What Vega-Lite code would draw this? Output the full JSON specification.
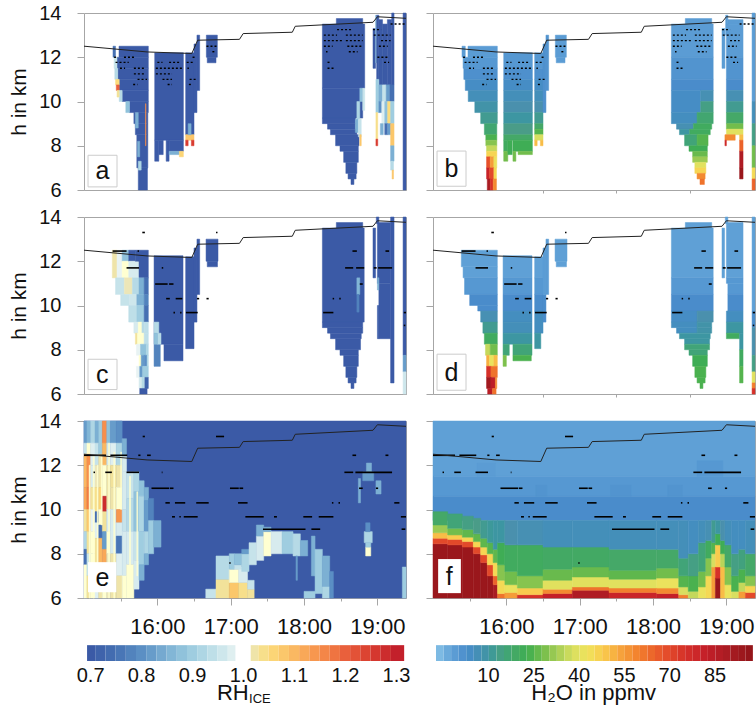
{"$schema":"https://vega.github.io/schema/vega-lite/v6.json","padding":{"left":8,"top":2,"right":0,"bottom":0},"background":"white","config":{"view":{"stroke":"#a6a6a6","strokeWidth":1},"font":"Liberation Sans","axis":{"labelFont":"Liberation Sans","titleFont":"Liberation Sans","grid":false,"labelColor":"#111","titleColor":"#111","titleFontWeight":"normal","domainColor":"#a6a6a6","tickColor":"#a6a6a6"}},
"datasets":{
"trop":[{"t":15,"h":12.5},{"t":15.86,"h":12.24},{"t":16.47,"h":12.17},{"t":16.55,"h":12.77},{"t":17.12,"h":12.81},{"t":17.17,"h":13.07},{"t":17.84,"h":13.13},{"t":17.88,"h":13.4},{"t":18.94,"h":13.58},{"t":19,"h":13.83},{"t":19.39,"h":13.76}],
"da":[{"t":15.41,"u":15.45,"h":12},{"t":15.545,"u":15.695,"h":12},{"t":15.43,"u":15.61,"h":11.77},{"t":15.49,"u":15.56,"h":11.5},{"t":15.68,"u":15.84,"h":11.5},{"t":15.68,"u":15.82,"h":11.25},{"t":15.73,"u":15.86,"h":11},{"t":15.67,"u":15.73,"h":10.77},{"t":16,"u":16.07,"h":11.77},{"t":16.16,"u":16.32,"h":11.77},{"t":15.98,"u":16.34,"h":11.5},{"t":15.98,"u":16.2,"h":11.25},{"t":16.07,"u":16.2,"h":11},{"t":16.14,"u":16.2,"h":10.77},{"t":16.48,"u":16.53,"h":12},{"t":16.4,"u":16.5,"h":11.77},{"t":16.41,"u":16.43,"h":11.5},{"t":16.44,"u":16.53,"h":11},{"t":16.43,"u":16.48,"h":10.77},{"t":16.67,"u":16.82,"h":12.5},{"t":16.75,"u":16.8,"h":12.25},{"t":18.45,"u":18.66,"h":13.25},{"t":18.27,"u":18.45,"h":13},{"t":18.57,"u":18.8,"h":13},{"t":18.27,"u":18.52,"h":12.75},{"t":18.57,"u":18.8,"h":12.75},{"t":18.27,"u":18.39,"h":12.5},{"t":18.59,"u":18.8,"h":12.5},{"t":18.61,"u":18.73,"h":12.25},{"t":18.3,"u":18.32,"h":12.25},{"t":18.32,"u":18.36,"h":11.77},{"t":18.32,"u":18.41,"h":11.5},{"t":19.18,"u":19.39,"h":13.5},{"t":18.94,"u":19.05,"h":13.25},{"t":18.95,"u":19.18,"h":13},{"t":19.05,"u":19.18,"h":12.75},{"t":19.02,"u":19.14,"h":12.5},{"t":19,"u":19.16,"h":12},{"t":19.09,"u":19.16,"h":11.77}],
"dc":[{"t":15.795,"u":15.83,"h":13.3},{"t":16.8,"u":16.82,"h":13.3},{"t":15.39,"u":15.58,"h":12.46},{"t":15.73,"u":15.75,"h":12.46},{"t":18.66,"u":18.72,"h":12.46},{"t":19.11,"u":19.16,"h":12.46},{"t":15.58,"u":15.75,"h":11.7},{"t":16.06,"u":16.08,"h":11.7},{"t":18.56,"u":18.67,"h":11.7},{"t":18.71,"u":18.82,"h":11.7},{"t":18.95,"u":18.99,"h":11.7},{"t":19.01,"u":19.2,"h":11.7},{"t":15.97,"u":16.14,"h":10.97},{"t":16.16,"u":16.22,"h":10.97},{"t":18.76,"u":18.8,"h":10.97},{"t":16.12,"u":16.17,"h":10.31},{"t":16.25,"u":16.34,"h":10.31},{"t":16.54,"u":16.57,"h":10.31},{"t":16.67,"u":16.7,"h":10.31},{"t":18.39,"u":18.41,"h":10.31},{"t":18.48,"u":18.5,"h":10.31},{"t":16.22,"u":16.24,"h":9.68},{"t":16.31,"u":16.33,"h":9.68},{"t":16.39,"u":16.55,"h":9.68},{"t":18.26,"u":18.4,"h":9.68},{"t":19.36,"u":19.39,"h":9.68},{"t":19.36,"u":19.38,"h":9.1}],
"de":[{"t":15.8,"u":15.83,"h":13.3},{"t":16.8,"u":16.91,"h":13.3},{"t":15,"u":15.3,"h":12.45},{"t":15.36,"u":15.59,"h":12.45},{"t":15.74,"u":15.77,"h":12.45},{"t":15.86,"u":15.91,"h":12.45},{"t":18.66,"u":18.71,"h":12.45},{"t":19.11,"u":19.15,"h":12.45},{"t":15.13,"u":15.15,"h":11.68},{"t":15.29,"u":15.38,"h":11.68},{"t":15.58,"u":15.75,"h":11.68},{"t":16.06,"u":16.07,"h":11.68},{"t":18.55,"u":18.67,"h":11.68},{"t":18.7,"u":19.2,"h":11.68},{"t":15.92,"u":16.16,"h":10.96},{"t":16.17,"u":16.22,"h":10.96},{"t":16.99,"u":17.11,"h":10.96},{"t":17.12,"u":17.17,"h":10.96},{"t":18.75,"u":18.8,"h":10.96},{"t":18.98,"u":19.01,"h":10.96},{"t":16.11,"u":16.17,"h":10.3},{"t":16.24,"u":16.38,"h":10.3},{"t":16.53,"u":16.7,"h":10.3},{"t":17.1,"u":17.23,"h":10.3},{"t":18.38,"u":18.4,"h":10.3},{"t":18.47,"u":18.49,"h":10.3},{"t":19.23,"u":19.3,"h":10.3},{"t":16.2,"u":16.24,"h":9.67},{"t":16.3,"u":16.32,"h":9.67},{"t":16.36,"u":16.55,"h":9.67},{"t":17.2,"u":17.45,"h":9.67},{"t":17.59,"u":17.63,"h":9.67},{"t":17.99,"u":18.11,"h":9.67},{"t":18.2,"u":18.4,"h":9.67},{"t":19.32,"u":19.39,"h":9.67},{"t":17.44,"u":18.02,"h":9.11},{"t":18.1,"u":18.22,"h":9.11},{"t":19.33,"u":19.38,"h":9.11},{"t":16.98,"u":17,"h":7.58}],
"a":[{"t":15.477,"u":15.877,"h":12,"k":12.5,"v":0.7},{"t":15.45,"u":15.877,"h":11.5,"k":12,"v":0.7},{"t":15.46,"u":15.877,"h":11,"k":11.5,"v":0.7},{"t":15.48,"u":15.877,"h":10.5,"k":11,"v":0.7},{"t":15.52,"u":15.877,"h":10,"k":10.5,"v":0.7},{"t":15.62,"u":15.877,"h":9.5,"k":10,"v":0.7},{"t":15.68,"u":15.87,"h":9,"k":9.5,"v":0.7},{"t":15.7,"u":15.87,"h":8.5,"k":9,"v":0.7},{"t":15.72,"u":15.87,"h":7,"k":8.5,"v":0.7},{"t":15.74,"u":15.865,"h":6,"k":7,"v":0.7},
{"t":15.395,"u":15.43,"h":12,"k":12.5,"v":0.75},{"t":15.41,"u":15.45,"h":11.5,"k":12,"v":0.95},{"t":15.42,"u":15.46,"h":11,"k":11.5,"v":0.93},{"t":15.43,"u":15.48,"h":10.75,"k":11,"v":1.05},{"t":15.44,"u":15.48,"h":10.5,"k":10.75,"v":1.2},{"t":15.48,"u":15.52,"h":10,"k":10.5,"v":0.93},{"t":15.45,"u":15.48,"h":10.2,"k":10.5,"v":1.03},{"t":15.57,"u":15.62,"h":9.5,"k":10,"v":0.88},{"t":15.7,"u":15.74,"h":8.8,"k":9.5,"v":0.85},{"t":15.73,"u":15.76,"h":7.5,"k":8.2,"v":0.85},{"t":15.74,"u":15.78,"h":6.9,"k":7.3,"v":0.92},{"t":15.838,"u":15.845,"h":8,"k":9.9,"v":1.15},
{"t":15.964,"u":16.355,"h":8.25,"k":12.2,"v":0.7},{"t":15.964,"u":16.02,"h":7.3,"k":8.25,"v":0.7},{"t":16.02,"u":16.08,"h":7.6,"k":8.25,"v":0.7},{"t":16.12,"u":16.16,"h":7.3,"k":8.25,"v":0.7},{"t":16.16,"u":16.355,"h":7.75,"k":8.25,"v":0.7},{"t":16.16,"u":16.3,"h":7.6,"k":7.75,"v":0.85},{"t":16.3,"u":16.355,"h":7.5,"k":7.75,"v":1.06},
{"t":16.386,"u":16.5,"h":8.5,"k":12.2,"v":0.7},{"t":16.386,"u":16.5,"h":8.25,"k":8.5,"v":1.08},{"t":16.386,"u":16.42,"h":8,"k":8.25,"v":1.25},{"t":16.464,"u":16.5,"h":8,"k":8.25,"v":1.25},{"t":16.42,"u":16.46,"h":8.5,"k":9,"v":0.85},{"t":16.5,"u":16.54,"h":9.5,"k":12.6,"v":0.7},{"t":16.54,"u":16.577,"h":10.5,"k":13,"v":0.7},
{"t":16.668,"u":16.818,"h":12,"k":13,"v":0.7},{"t":16.68,"u":16.8,"h":11.75,"k":12,"v":0.7},
{"t":18.44,"u":18.8,"h":13.5,"k":13.75,"v":0.7},{"t":18.25,"u":18.827,"h":10.6,"k":13.5,"v":0.7},{"t":18.25,"u":18.8,"h":9.25,"k":10.6,"v":0.7},{"t":18.25,"u":18.7,"h":9,"k":9.25,"v":0.7},{"t":18.32,"u":18.7,"h":8.75,"k":9,"v":0.7},{"t":18.36,"u":18.72,"h":8.5,"k":8.75,"v":0.7},{"t":18.43,"u":18.75,"h":8,"k":8.5,"v":0.7},{"t":18.49,"u":18.74,"h":7.75,"k":8,"v":0.7},{"t":18.54,"u":18.74,"h":7.25,"k":7.75,"v":0.7},{"t":18.57,"u":18.72,"h":6.75,"k":7.25,"v":0.7},{"t":18.6,"u":18.71,"h":6.5,"k":6.75,"v":0.7},{"t":18.64,"u":18.68,"h":6.25,"k":6.5,"v":0.7},
{"t":18.72,"u":18.76,"h":9.2,"k":10,"v":0.92},{"t":18.7,"u":18.74,"h":8.6,"k":9.2,"v":0.85},{"t":18.74,"u":18.78,"h":8.4,"k":9.2,"v":0.95},{"t":18.76,"u":18.78,"h":8,"k":8.5,"v":1.08},{"t":18.76,"u":18.8,"h":10,"k":10.6,"v":0.88},{"t":18.8,"u":18.827,"h":9.6,"k":10.6,"v":0.95},
{"t":18.94,"u":18.975,"h":11.5,"k":13.3,"v":0.7},{"t":18.975,"u":18.99,"h":11.75,"k":13.9,"v":0.85},{"t":18.99,"u":19.02,"h":11,"k":13.9,"v":0.7},{"t":19.02,"u":19.07,"h":10.75,"k":13.7,"v":0.7},{"t":19.07,"u":19.136,"h":10.75,"k":13.5,"v":0.7},{"t":19.136,"u":19.195,"h":10.75,"k":13.7,"v":0.7},{"t":19.195,"u":19.227,"h":10.75,"k":14,"v":0.7},
{"t":18.98,"u":19.02,"h":9.5,"k":11,"v":0.9},{"t":18.98,"u":19.005,"h":8.3,"k":9.5,"v":1.04},{"t":18.98,"u":19.005,"h":8,"k":8.3,"v":1.25},{"t":19.02,"u":19.07,"h":10,"k":10.75,"v":0.85},{"t":19.07,"u":19.12,"h":10,"k":10.75,"v":0.95},{"t":19.12,"u":19.17,"h":10,"k":10.75,"v":0.82},{"t":19.17,"u":19.227,"h":10,"k":10.75,"v":0.75},{"t":19.02,"u":19.06,"h":9.5,"k":10,"v":0.8},{"t":19.06,"u":19.1,"h":9,"k":10,"v":0.98},{"t":19.1,"u":19.14,"h":9,"k":10,"v":0.88},{"t":19.14,"u":19.18,"h":9,"k":10,"v":1.05},{"t":19.18,"u":19.227,"h":9,"k":10,"v":0.9},{"t":19.04,"u":19.08,"h":8.5,"k":9,"v":0.85},{"t":19.1,"u":19.14,"h":8.5,"k":9,"v":0.75},{"t":19.14,"u":19.18,"h":8.5,"k":9,"v":0.82},{"t":19.18,"u":19.227,"h":8,"k":9,"v":1.08},{"t":19.18,"u":19.227,"h":7.3,"k":8,"v":0.85},{"t":19.18,"u":19.22,"h":6.9,"k":7.3,"v":0.93},{"t":19.2,"u":19.22,"h":6.5,"k":6.9,"v":1.08},{"t":19.35,"u":19.39,"h":6,"k":14,"v":0.7}],
"b":[{"t":15.395,"u":15.44,"h":12,"k":12.5,"v":-1},{"t":15.477,"u":15.877,"h":12,"k":12.5,"v":-1},{"t":15.41,"u":15.877,"h":11.5,"k":12,"v":0},{"t":15.42,"u":15.877,"h":11,"k":11.5,"v":2},{"t":15.44,"u":15.877,"h":10.5,"k":11,"v":4},{"t":15.48,"u":15.877,"h":10,"k":10.5,"v":6},{"t":15.57,"u":15.877,"h":9.5,"k":10,"v":9},{"t":15.65,"u":15.877,"h":9,"k":9.5,"v":12},{"t":15.7,"u":15.87,"h":8.5,"k":9,"v":17},{"t":15.72,"u":15.87,"h":8.25,"k":8.5,"v":24},{"t":15.72,"u":15.87,"h":8,"k":8.25,"v":30},{"t":15.73,"u":15.87,"h":7.75,"k":8,"v":36},{"t":15.73,"u":15.87,"h":7.5,"k":7.75,"v":46},{"t":15.73,"u":15.78,"h":7,"k":7.5,"v":68},{"t":15.78,"u":15.83,"h":7,"k":7.5,"v":55},{"t":15.83,"u":15.87,"h":7,"k":7.5,"v":42},{"t":15.73,"u":15.77,"h":6.5,"k":7,"v":80},{"t":15.77,"u":15.83,"h":6.5,"k":7,"v":70},{"t":15.83,"u":15.865,"h":6.5,"k":7,"v":45},{"t":15.74,"u":15.78,"h":6,"k":6.5,"v":90},{"t":15.78,"u":15.82,"h":6,"k":6.5,"v":75},{"t":15.82,"u":15.865,"h":6,"k":6.5,"v":58},
{"t":15.964,"u":16.355,"h":11.5,"k":12.2,"v":0},{"t":15.964,"u":16.355,"h":11,"k":11.5,"v":2},{"t":15.964,"u":16.355,"h":10.5,"k":11,"v":4},{"t":15.964,"u":16.355,"h":10,"k":10.5,"v":6},{"t":15.964,"u":16.355,"h":9.5,"k":10,"v":8},{"t":15.964,"u":16.355,"h":9,"k":9.5,"v":10},{"t":15.964,"u":16.355,"h":8.5,"k":9,"v":13},{"t":15.964,"u":16.355,"h":8.25,"k":8.5,"v":18},{"t":15.964,"u":16.02,"h":7.75,"k":8.25,"v":20},{"t":15.964,"u":16.02,"h":7.3,"k":7.75,"v":28},{"t":16.02,"u":16.08,"h":7.6,"k":8.25,"v":22},{"t":16.09,"u":16.355,"h":7.75,"k":8.25,"v":22},{"t":16.09,"u":16.13,"h":7.3,"k":7.75,"v":28},{"t":16.16,"u":16.355,"h":7.6,"k":7.75,"v":28},
{"t":16.386,"u":16.5,"h":11.5,"k":12.2,"v":0},{"t":16.386,"u":16.5,"h":11,"k":11.5,"v":2},{"t":16.386,"u":16.5,"h":10.5,"k":11,"v":4},{"t":16.386,"u":16.5,"h":10,"k":10.5,"v":6},{"t":16.386,"u":16.5,"h":9.5,"k":10,"v":8},{"t":16.386,"u":16.5,"h":9,"k":9.5,"v":12},{"t":16.386,"u":16.5,"h":8.75,"k":9,"v":18},{"t":16.386,"u":16.5,"h":8.5,"k":8.75,"v":25},{"t":16.386,"u":16.5,"h":8.25,"k":8.5,"v":38},{"t":16.386,"u":16.42,"h":8,"k":8.25,"v":50},{"t":16.464,"u":16.5,"h":8,"k":8.25,"v":50},{"t":16.5,"u":16.54,"h":9.5,"k":12.6,"v":2},{"t":16.54,"u":16.577,"h":10.5,"k":13,"v":1},
{"t":16.668,"u":16.818,"h":12,"k":13,"v":-1},{"t":16.68,"u":16.8,"h":11.75,"k":12,"v":-1},
{"t":18.44,"u":18.8,"h":13.5,"k":13.75,"v":-1},{"t":18.25,"u":18.82,"h":12,"k":13.5,"v":-1},{"t":18.25,"u":18.82,"h":11,"k":12,"v":1},{"t":18.25,"u":18.82,"h":10.5,"k":11,"v":3},{"t":18.25,"u":18.65,"h":9.5,"k":10.5,"v":4},{"t":18.65,"u":18.82,"h":10,"k":10.5,"v":7},{"t":18.65,"u":18.82,"h":9.5,"k":10,"v":14},{"t":18.25,"u":18.6,"h":9,"k":9.5,"v":5},{"t":18.6,"u":18.82,"h":9,"k":9.5,"v":17},{"t":18.32,"u":18.55,"h":8.75,"k":9,"v":7},{"t":18.55,"u":18.8,"h":8.75,"k":9,"v":20},{"t":18.36,"u":18.5,"h":8.5,"k":8.75,"v":10},{"t":18.5,"u":18.78,"h":8.5,"k":8.75,"v":20},{"t":18.43,"u":18.6,"h":8,"k":8.5,"v":16},{"t":18.6,"u":18.75,"h":8,"k":8.5,"v":25},{"t":18.49,"u":18.74,"h":7.75,"k":8,"v":22},{"t":18.54,"u":18.74,"h":7.5,"k":7.75,"v":27},{"t":18.54,"u":18.74,"h":7.25,"k":7.5,"v":32},{"t":18.57,"u":18.72,"h":7,"k":7.25,"v":40},{"t":18.57,"u":18.72,"h":6.75,"k":7,"v":46},{"t":18.6,"u":18.71,"h":6.5,"k":6.75,"v":58},{"t":18.64,"u":18.7,"h":6.25,"k":6.5,"v":62},
{"t":18.94,"u":18.98,"h":11.5,"k":13.3,"v":-1},{"t":18.99,"u":19.02,"h":13,"k":13.9,"v":-1},{"t":19,"u":19.227,"h":12,"k":13.5,"v":-1},{"t":19.02,"u":19.227,"h":13.5,"k":13.7,"v":-1},{"t":19,"u":19.227,"h":11,"k":12,"v":1},{"t":19,"u":19.227,"h":10.5,"k":11,"v":3},{"t":19,"u":19.227,"h":10,"k":10.5,"v":7},{"t":19,"u":19.227,"h":9.5,"k":10,"v":12},{"t":19,"u":19.227,"h":9,"k":9.5,"v":18},{"t":19,"u":19.227,"h":8.75,"k":9,"v":28},{"t":19,"u":19.227,"h":8.5,"k":8.75,"v":40},{"t":18.98,"u":19.12,"h":8.25,"k":8.5,"v":58},{"t":18.98,"u":19,"h":8,"k":8.25,"v":78},{"t":19.18,"u":19.227,"h":8.25,"k":8.5,"v":50},{"t":19.18,"u":19.227,"h":7.75,"k":8.25,"v":65},{"t":19.18,"u":19.227,"h":7,"k":7.75,"v":88},{"t":19.18,"u":19.227,"h":6.5,"k":7,"v":95},
{"t":19.35,"u":19.39,"h":10,"k":14,"v":-1},{"t":19.35,"u":19.39,"h":9,"k":10,"v":6},{"t":19.35,"u":19.39,"h":8,"k":9,"v":14},{"t":19.35,"u":19.39,"h":7,"k":8,"v":28},{"t":19.35,"u":19.39,"h":6.5,"k":7,"v":45},{"t":19.35,"u":19.39,"h":6,"k":6.5,"v":65}],
"c":[{"t":15.386,"u":15.45,"h":11.25,"k":12.5,"v":1.02},{"t":15.45,"u":15.52,"h":11.25,"k":12.5,"v":0.99},{"t":15.52,"u":15.61,"h":12,"k":12.5,"v":0.88},{"t":15.52,"u":15.61,"h":11.25,"k":12,"v":1.0},{"t":15.61,"u":15.7,"h":12,"k":12.5,"v":0.7},{"t":15.61,"u":15.75,"h":11.25,"k":12,"v":0.97},{"t":15.7,"u":15.75,"h":12,"k":12.5,"v":0.7},{"t":15.75,"u":15.877,"h":11.25,"k":12.5,"v":0.7},
{"t":15.43,"u":15.55,"h":10.5,"k":11.25,"v":0.95},{"t":15.55,"u":15.66,"h":10.5,"k":11.25,"v":1.01},{"t":15.66,"u":15.75,"h":10.5,"k":11.25,"v":0.93},{"t":15.75,"u":15.82,"h":10.5,"k":11.25,"v":0.85},{"t":15.82,"u":15.877,"h":10.5,"k":11.25,"v":0.75},
{"t":15.5,"u":15.62,"h":10,"k":10.5,"v":0.95},{"t":15.62,"u":15.72,"h":10,"k":10.5,"v":0.96},{"t":15.72,"u":15.82,"h":10,"k":10.5,"v":0.85},{"t":15.82,"u":15.877,"h":10,"k":10.5,"v":0.78},
{"t":15.61,"u":15.72,"h":9.25,"k":10,"v":0.94},{"t":15.72,"u":15.82,"h":9.25,"k":10,"v":0.9},{"t":15.82,"u":15.877,"h":9.25,"k":10,"v":0.75},
{"t":15.68,"u":15.74,"h":8.75,"k":9.25,"v":0.97},{"t":15.74,"u":15.79,"h":8.75,"k":9.25,"v":1.0},{"t":15.79,"u":15.82,"h":8.75,"k":9.25,"v":0.93},{"t":15.82,"u":15.877,"h":8.75,"k":9.25,"v":0.94},
{"t":15.7,"u":15.73,"h":8.25,"k":8.75,"v":1.03},{"t":15.73,"u":15.82,"h":8.25,"k":8.75,"v":1.0},{"t":15.82,"u":15.877,"h":8.25,"k":8.75,"v":0.94},
{"t":15.714,"u":15.77,"h":7.75,"k":8.25,"v":0.99},{"t":15.77,"u":15.85,"h":7.75,"k":8.25,"v":0.88},{"t":15.85,"u":15.877,"h":7.75,"k":8.25,"v":0.92},
{"t":15.75,"u":15.78,"h":7.25,"k":7.75,"v":1.0},{"t":15.78,"u":15.82,"h":7.25,"k":7.75,"v":0.82},{"t":15.82,"u":15.86,"h":7.25,"k":7.75,"v":0.8},{"t":15.86,"u":15.877,"h":7.25,"k":7.75,"v":0.92},
{"t":15.714,"u":15.76,"h":6.75,"k":7.25,"v":0.99},{"t":15.76,"u":15.8,"h":6.75,"k":7.25,"v":0.82},{"t":15.8,"u":15.877,"h":6.75,"k":7.25,"v":0.9},
{"t":15.75,"u":15.79,"h":6.25,"k":6.75,"v":0.97},{"t":15.79,"u":15.83,"h":6.25,"k":6.75,"v":0.93},{"t":15.83,"u":15.877,"h":6.25,"k":6.75,"v":0.72},{"t":15.76,"u":15.86,"h":6,"k":6.25,"v":0.7},
{"t":15.955,"u":16.35,"h":8.25,"k":12.25,"v":0.7},{"t":15.955,"u":16.04,"h":7.25,"k":8.25,"v":0.78},{"t":16.09,"u":16.35,"h":7.5,"k":8.25,"v":0.7},{"t":15.955,"u":16.02,"h":8.75,"k":9.25,"v":0.93},{"t":16,"u":16.05,"h":8.25,"k":8.75,"v":0.93},{"t":15.955,"u":16,"h":8.25,"k":8.75,"v":0.88},
{"t":16.386,"u":16.5,"h":8.05,"k":12.2,"v":0.7},{"t":16.5,"u":16.54,"h":9.25,"k":12.6,"v":0.7},{"t":16.54,"u":16.577,"h":10.5,"k":13,"v":0.7},{"t":16.664,"u":16.827,"h":12,"k":13,"v":0.7},{"t":16.68,"u":16.82,"h":11.75,"k":12,"v":0.7},
{"t":18.44,"u":18.8,"h":13.5,"k":13.75,"v":0.7},{"t":18.25,"u":18.82,"h":9.25,"k":13.5,"v":0.7},{"t":18.25,"u":18.8,"h":9,"k":9.25,"v":0.7},{"t":18.32,"u":18.8,"h":8.75,"k":9,"v":0.7},{"t":18.36,"u":18.78,"h":8.5,"k":8.75,"v":0.7},{"t":18.43,"u":18.77,"h":8,"k":8.5,"v":0.7},{"t":18.49,"u":18.74,"h":7.75,"k":8,"v":0.7},{"t":18.54,"u":18.74,"h":7.25,"k":7.75,"v":0.7},{"t":18.57,"u":18.72,"h":6.75,"k":7.25,"v":0.7},{"t":18.6,"u":18.71,"h":6.5,"k":6.75,"v":0.7},{"t":18.64,"u":18.68,"h":6.25,"k":6.5,"v":0.7},{"t":18.72,"u":18.76,"h":10.5,"k":11.25,"v":0.86},{"t":18.72,"u":18.75,"h":9.7,"k":10.5,"v":0.78},
{"t":18.94,"u":18.975,"h":11.25,"k":13.5,"v":0.7},{"t":18.985,"u":19.02,"h":13.7,"k":14,"v":0.7},{"t":19,"u":19.18,"h":11,"k":13.75,"v":0.7},{"t":19,"u":19.02,"h":8.5,"k":10,"v":0.7},{"t":19.02,"u":19.18,"h":8.5,"k":11,"v":0.7},{"t":19.18,"u":19.227,"h":6.5,"k":14,"v":0.7},{"t":19,"u":19.02,"h":10.7,"k":11.25,"v":0.85},
{"t":19.35,"u":19.39,"h":7.75,"k":14,"v":0.7},{"t":19.35,"u":19.39,"h":7,"k":7.75,"v":0.82},{"t":19.35,"u":19.39,"h":6,"k":7,"v":0.96}],
"d":[{"t":15.386,"u":15.877,"h":11.75,"k":12.5,"v":-2},{"t":15.41,"u":15.877,"h":11.25,"k":11.75,"v":-2},{"t":15.43,"u":15.877,"h":10.5,"k":11.25,"v":0},{"t":15.5,"u":15.877,"h":10,"k":10.5,"v":3},{"t":15.61,"u":15.877,"h":9.75,"k":10,"v":3},{"t":15.65,"u":15.877,"h":9.25,"k":9.75,"v":7},{"t":15.68,"u":15.877,"h":8.75,"k":9.25,"v":12},{"t":15.7,"u":15.877,"h":8.25,"k":8.75,"v":20},{"t":15.715,"u":15.78,"h":7.75,"k":8.25,"v":36},{"t":15.78,"u":15.877,"h":7.75,"k":8.25,"v":28},{"t":15.73,"u":15.77,"h":7.25,"k":7.75,"v":52},{"t":15.77,"u":15.83,"h":7.25,"k":7.75,"v":42},{"t":15.83,"u":15.877,"h":7.25,"k":7.75,"v":50},{"t":15.73,"u":15.79,"h":6.75,"k":7.25,"v":75},{"t":15.79,"u":15.877,"h":6.75,"k":7.25,"v":62},{"t":15.73,"u":15.79,"h":6.25,"k":6.75,"v":92},{"t":15.79,"u":15.85,"h":6.25,"k":6.75,"v":84},{"t":15.85,"u":15.87,"h":6.25,"k":6.75,"v":58},{"t":15.745,"u":15.81,"h":6,"k":6.25,"v":85},{"t":15.81,"u":15.86,"h":6,"k":6.25,"v":62},
{"t":15.955,"u":16.35,"h":11.25,"k":12.25,"v":-2},{"t":15.955,"u":16.35,"h":10.5,"k":11.25,"v":0},{"t":15.955,"u":16.35,"h":9.75,"k":10.5,"v":3},{"t":15.955,"u":16.35,"h":9.25,"k":9.75,"v":5},{"t":15.955,"u":16.35,"h":8.75,"k":9.25,"v":6},{"t":15.955,"u":16.35,"h":8.25,"k":8.75,"v":10},{"t":15.955,"u":16.04,"h":7.75,"k":8.25,"v":16},{"t":16.09,"u":16.35,"h":7.75,"k":8.25,"v":16},{"t":15.955,"u":16.0,"h":7.25,"k":7.75,"v":29},{"t":16.09,"u":16.34,"h":7.5,"k":7.75,"v":24},
{"t":16.386,"u":16.5,"h":11.25,"k":12.2,"v":-2},{"t":16.386,"u":16.5,"h":10.5,"k":11.25,"v":0},{"t":16.386,"u":16.5,"h":9.75,"k":10.5,"v":3},{"t":16.386,"u":16.5,"h":8.75,"k":9.75,"v":5},{"t":16.386,"u":16.47,"h":8.05,"k":8.75,"v":10},{"t":16.5,"u":16.54,"h":9.25,"k":10.5,"v":3},{"t":16.5,"u":16.54,"h":10.5,"k":12.6,"v":-1},{"t":16.54,"u":16.577,"h":10.5,"k":13,"v":-1},{"t":16.664,"u":16.827,"h":12,"k":13,"v":-2},{"t":16.68,"u":16.82,"h":11.75,"k":12,"v":-2},
{"t":18.44,"u":18.8,"h":13.5,"k":13.75,"v":-2},{"t":18.25,"u":18.82,"h":11.25,"k":13.5,"v":-2},{"t":18.25,"u":18.82,"h":10.5,"k":11.25,"v":0},{"t":18.25,"u":18.82,"h":9.75,"k":10.5,"v":3},{"t":18.25,"u":18.6,"h":9.25,"k":9.75,"v":4},{"t":18.6,"u":18.82,"h":9.25,"k":9.75,"v":8},{"t":18.25,"u":18.6,"h":9,"k":9.25,"v":5},{"t":18.6,"u":18.8,"h":9,"k":9.25,"v":9},{"t":18.32,"u":18.6,"h":8.75,"k":9,"v":5},{"t":18.6,"u":18.8,"h":8.75,"k":9,"v":9},{"t":18.36,"u":18.78,"h":8.5,"k":8.75,"v":10},{"t":18.43,"u":18.77,"h":8.25,"k":8.5,"v":10},{"t":18.43,"u":18.77,"h":8,"k":8.25,"v":16},{"t":18.49,"u":18.74,"h":7.75,"k":8,"v":16},{"t":18.54,"u":18.74,"h":7.25,"k":7.75,"v":22},{"t":18.57,"u":18.72,"h":6.75,"k":7.25,"v":24},{"t":18.6,"u":18.71,"h":6.5,"k":6.75,"v":24},{"t":18.64,"u":18.68,"h":6.25,"k":6.5,"v":24},
{"t":18.94,"u":18.975,"h":11.25,"k":13.5,"v":-2},{"t":18.985,"u":19.02,"h":13.7,"k":14,"v":-2},{"t":19,"u":19.227,"h":11.25,"k":13.75,"v":-2},{"t":19,"u":19.227,"h":11,"k":11.25,"v":0},{"t":19.02,"u":19.227,"h":10.5,"k":11,"v":0},{"t":19.02,"u":19.227,"h":9.75,"k":10.5,"v":3},{"t":19,"u":19.227,"h":9.25,"k":9.75,"v":5},{"t":19,"u":19.227,"h":8.75,"k":9.25,"v":10},{"t":19,"u":19.18,"h":8.5,"k":8.75,"v":20},{"t":19.18,"u":19.227,"h":8,"k":8.75,"v":10},{"t":19.18,"u":19.227,"h":7.25,"k":8,"v":20},{"t":19.18,"u":19.227,"h":6.5,"k":7.25,"v":25},
{"t":19.35,"u":19.39,"h":9.75,"k":14,"v":-2},{"t":19.35,"u":19.39,"h":9,"k":9.75,"v":3},{"t":19.35,"u":19.39,"h":7.75,"k":9,"v":8},{"t":19.35,"u":19.39,"h":7,"k":7.75,"v":14},{"t":19.35,"u":19.39,"h":6.5,"k":7,"v":40},{"t":19.35,"u":19.39,"h":6.25,"k":6.5,"v":60},{"t":19.35,"u":19.39,"h":6,"k":6.25,"v":75}],
"e":[{"t":15,"u":19.39,"h":6,"k":14,"v":0.7},
{"t":15,"u":15.04,"h":13,"k":14,"v":0.82},{"t":15,"u":15.04,"h":12.5,"k":13,"v":0.95},{"t":15,"u":15.04,"h":11,"k":12.5,"v":1.1},{"t":15,"u":15.04,"h":10,"k":11,"v":1.12},{"t":15,"u":15.04,"h":9,"k":10,"v":1.03},{"t":15,"u":15.04,"h":8.2,"k":9,"v":0.92},{"t":15,"u":15.04,"h":7.5,"k":8.2,"v":0.75},{"t":15,"u":15.04,"h":6,"k":7.5,"v":1.0},
{"t":15.04,"u":15.09,"h":13,"k":14,"v":0.86},{"t":15.04,"u":15.09,"h":12.5,"k":13,"v":1.0},{"t":15.04,"u":15.09,"h":11,"k":12.5,"v":1.15},{"t":15.04,"u":15.09,"h":10,"k":11,"v":1.17},{"t":15.04,"u":15.09,"h":9,"k":10,"v":1.08},{"t":15.04,"u":15.09,"h":8,"k":9,"v":1.03},{"t":15.04,"u":15.09,"h":7,"k":8,"v":0.95},{"t":15.04,"u":15.09,"h":6,"k":7,"v":1.03},
{"t":15.09,"u":15.15,"h":13,"k":14,"v":0.92},{"t":15.09,"u":15.15,"h":12,"k":13,"v":0.98},{"t":15.09,"u":15.15,"h":11,"k":12,"v":0.97},{"t":15.09,"u":15.15,"h":10,"k":11,"v":1.03},{"t":15.09,"u":15.15,"h":9,"k":10,"v":0.99},{"t":15.09,"u":15.15,"h":8,"k":9,"v":1.0},{"t":15.09,"u":15.15,"h":6,"k":8,"v":1.0},
{"t":15.15,"u":15.2,"h":13,"k":14,"v":0.85},{"t":15.15,"u":15.2,"h":12,"k":13,"v":0.95},{"t":15.15,"u":15.2,"h":11,"k":12,"v":1.01},{"t":15.15,"u":15.2,"h":9.9,"k":11,"v":1.04},{"t":15.15,"u":15.2,"h":9.4,"k":9.9,"v":0.75},{"t":15.15,"u":15.2,"h":8.7,"k":9.4,"v":0.98},{"t":15.15,"u":15.2,"h":7.5,"k":8.7,"v":1.03},{"t":15.15,"u":15.2,"h":6,"k":7.5,"v":0.98},
{"t":15.2,"u":15.25,"h":12.5,"k":14,"v":0.9},{"t":15.2,"u":15.25,"h":11,"k":12.5,"v":1.02},{"t":15.2,"u":15.25,"h":10,"k":11,"v":1.06},{"t":15.2,"u":15.25,"h":9.3,"k":10,"v":1.0},{"t":15.2,"u":15.25,"h":8.7,"k":9.3,"v":0.74},{"t":15.2,"u":15.25,"h":7.5,"k":8.7,"v":1.1},{"t":15.2,"u":15.25,"h":6,"k":7.5,"v":1.02},
{"t":15.25,"u":15.31,"h":13,"k":14,"v":1.15},{"t":15.25,"u":15.31,"h":12,"k":13,"v":1.1},{"t":15.25,"u":15.31,"h":10.6,"k":12,"v":1.0},{"t":15.25,"u":15.31,"h":9.9,"k":10.6,"v":1.28},{"t":15.25,"u":15.31,"h":9,"k":9.9,"v":1.03},{"t":15.25,"u":15.31,"h":8.2,"k":9,"v":0.82},{"t":15.25,"u":15.31,"h":7,"k":8.2,"v":1.12},{"t":15.25,"u":15.31,"h":6,"k":7,"v":1.0},
{"t":15.31,"u":15.36,"h":13,"k":14,"v":0.88},{"t":15.31,"u":15.36,"h":12,"k":13,"v":0.96},{"t":15.31,"u":15.36,"h":10,"k":12,"v":1.02},{"t":15.31,"u":15.36,"h":9,"k":10,"v":0.97},{"t":15.31,"u":15.36,"h":8,"k":9,"v":1.0},{"t":15.31,"u":15.36,"h":6,"k":8,"v":1.01},
{"t":15.36,"u":15.44,"h":13,"k":14,"v":0.82},{"t":15.36,"u":15.44,"h":12,"k":13,"v":0.98},{"t":15.36,"u":15.44,"h":11,"k":12,"v":1.03},{"t":15.36,"u":15.44,"h":10,"k":11,"v":1.02},{"t":15.36,"u":15.44,"h":8,"k":10,"v":0.97},{"t":15.36,"u":15.44,"h":6,"k":8,"v":1.02},
{"t":15.44,"u":15.52,"h":13,"k":14,"v":0.8},{"t":15.44,"u":15.52,"h":12,"k":13,"v":0.92},{"t":15.44,"u":15.52,"h":11,"k":12,"v":1.02},{"t":15.44,"u":15.52,"h":10,"k":11,"v":1.0},{"t":15.44,"u":15.52,"h":9.4,"k":10,"v":1.14},{"t":15.44,"u":15.52,"h":8.8,"k":9.4,"v":0.97},{"t":15.44,"u":15.52,"h":8,"k":8.8,"v":0.76},{"t":15.44,"u":15.52,"h":7,"k":8,"v":0.98},{"t":15.44,"u":15.52,"h":6,"k":7,"v":1.02},
{"t":15.52,"u":15.58,"h":12.4,"k":13.2,"v":0.85},{"t":15.52,"u":15.58,"h":11.7,"k":12.4,"v":0.97},{"t":15.52,"u":15.58,"h":10,"k":11.7,"v":0.97},{"t":15.52,"u":15.58,"h":9,"k":10,"v":0.95},{"t":15.52,"u":15.58,"h":7,"k":9,"v":0.97},{"t":15.52,"u":15.58,"h":6,"k":7,"v":1.0},
{"t":15.58,"u":15.68,"h":10.5,"k":11.7,"v":0.95},{"t":15.58,"u":15.68,"h":9,"k":10.5,"v":0.93},{"t":15.58,"u":15.68,"h":7.5,"k":9,"v":0.97},{"t":15.58,"u":15.68,"h":6,"k":7.5,"v":1.0},
{"t":15.68,"u":15.75,"h":10.8,"k":11.7,"v":0.92},{"t":15.68,"u":15.75,"h":9,"k":10.8,"v":0.88},{"t":15.68,"u":15.75,"h":7.7,"k":9,"v":0.95},{"t":15.68,"u":15.75,"h":6.4,"k":7.7,"v":0.97},
{"t":15.75,"u":15.82,"h":10.6,"k":11.3,"v":0.88},{"t":15.75,"u":15.82,"h":9,"k":10.6,"v":0.92},{"t":15.75,"u":15.82,"h":7.5,"k":9,"v":0.9},{"t":15.75,"u":15.82,"h":6.8,"k":7.5,"v":0.85},
{"t":15.82,"u":15.88,"h":10.4,"k":11,"v":0.85},{"t":15.82,"u":15.88,"h":9,"k":10.4,"v":0.82},{"t":15.82,"u":15.88,"h":8,"k":9,"v":0.92},{"t":15.82,"u":15.88,"h":7.5,"k":8,"v":0.85},{"t":15.88,"u":15.95,"h":9.5,"k":10.5,"v":0.78},{"t":15.88,"u":15.95,"h":8,"k":9.5,"v":0.9},{"t":15.95,"u":16.05,"h":8.3,"k":9.5,"v":0.85},
{"t":15.07,"u":15.085,"h":6,"k":12,"v":1.0},{"t":15.125,"u":15.14,"h":6,"k":12.4,"v":1.0},{"t":15.18,"u":15.192,"h":7,"k":12,"v":1.0},{"t":15.235,"u":15.248,"h":9.3,"k":12.4,"v":1.0},{"t":15.335,"u":15.348,"h":6,"k":13,"v":1.0},{"t":15.405,"u":15.42,"h":6,"k":12.6,"v":1.0},{"t":15.5,"u":15.512,"h":10,"k":12.6,"v":1.0},{"t":15.62,"u":15.635,"h":6.5,"k":11.5,"v":1.0},{"t":15.72,"u":15.732,"h":7,"k":10.8,"v":1.0},
{"t":16.66,"u":16.8,"h":6,"k":6.4,"v":0.95},{"t":16.8,"u":16.98,"h":6,"k":6.85,"v":1.03},{"t":16.8,"u":16.98,"h":6.85,"k":7.9,"v":0.93},{"t":16.98,"u":17.11,"h":6,"k":6.7,"v":1.08},{"t":16.98,"u":17.11,"h":6.7,"k":7.3,"v":1.0},{"t":17.11,"u":17.23,"h":6,"k":6.7,"v":1.04},{"t":17.11,"u":17.23,"h":6.7,"k":7.4,"v":0.97},{"t":17.23,"u":17.32,"h":6,"k":6.4,"v":1.03},{"t":17.23,"u":17.32,"h":6.4,"k":6.8,"v":0.95},
{"t":16.98,"u":17.05,"h":7.3,"k":8,"v":0.9},{"t":17.05,"u":17.15,"h":7.3,"k":7.5,"v":0.95},{"t":17.05,"u":17.15,"h":7.5,"k":8,"v":0.88},{"t":17.15,"u":17.25,"h":7.2,"k":8,"v":0.92},{"t":17.15,"u":17.25,"h":8,"k":8.2,"v":0.82},{"t":17.25,"u":17.35,"h":7.5,"k":8.5,"v":0.95},{"t":17.35,"u":17.45,"h":7.7,"k":8.8,"v":0.97},{"t":17.35,"u":17.45,"h":8.8,"k":9.3,"v":0.85},{"t":17.45,"u":17.55,"h":7.9,"k":9,"v":1.0},{"t":17.45,"u":17.55,"h":9,"k":9.2,"v":0.85},{"t":17.55,"u":17.7,"h":8,"k":9,"v":0.97},{"t":17.7,"u":17.85,"h":8,"k":9,"v":0.9},{"t":17.85,"u":17.95,"h":7.9,"k":8.9,"v":0.93},{"t":17.95,"u":18.05,"h":7.9,"k":8.6,"v":0.85},{"t":17.89,"u":17.91,"h":6.8,"k":7.9,"v":0.82},{"t":18.1,"u":18.15,"h":7,"k":8.8,"v":0.85},{"t":18.15,"u":18.25,"h":6.2,"k":8.2,"v":0.9},{"t":18.25,"u":18.35,"h":6.5,"k":7.9,"v":0.85},{"t":18.25,"u":18.35,"h":6,"k":6.5,"v":0.92},{"t":18.35,"u":18.4,"h":6,"k":7.2,"v":0.8},{"t":18,"u":18.15,"h":6,"k":6.3,"v":0.9},
{"t":18.82,"u":18.93,"h":8.5,"k":9,"v":0.92},{"t":18.84,"u":18.9,"h":9,"k":9.4,"v":0.8},{"t":18.84,"u":18.91,"h":7.9,"k":8.3,"v":1.0},{"t":18.84,"u":18.91,"h":8.3,"k":8.5,"v":0.9},{"t":18.8,"u":18.95,"h":11.3,"k":11.7,"v":0.82},{"t":18.85,"u":18.92,"h":11.7,"k":12.1,"v":0.85},{"t":18.74,"u":18.77,"h":10.3,"k":11.4,"v":0.85},{"t":18.98,"u":19.05,"h":10.7,"k":11.3,"v":0.85},{"t":19.34,"u":19.39,"h":6,"k":7.4,"v":0.9}],
"f":[{"t":15,"u":19.39,"h":11.5,"k":14,"v":-2},{"t":15,"u":19.39,"h":10.6,"k":11.5,"v":0},{"t":15,"u":19.39,"h":9.5,"k":10.6,"v":3},{"t":18.6,"u":18.95,"h":11.5,"k":12.2,"v":0},{"t":15.6,"u":15.85,"h":11.5,"k":12.1,"v":-1},{"t":16.4,"u":16.55,"h":10.6,"k":11.1,"v":1},{"t":17.42,"u":17.7,"h":10.6,"k":11.1,"v":1},{"t":18.2,"u":18.4,"h":10.6,"k":11.1,"v":1},
{"t":15,"u":15.2,"h":6,"k":8.45,"v":95},{"t":15,"u":15.2,"h":8.45,"k":8.7,"v":70},{"t":15,"u":15.2,"h":8.7,"k":8.95,"v":50},{"t":15,"u":15.2,"h":8.95,"k":9.3,"v":32},{"t":15,"u":15.2,"h":9.3,"k":9.9,"v":18},
{"t":15.2,"u":15.4,"h":6,"k":8.4,"v":95},{"t":15.2,"u":15.4,"h":8.4,"k":8.65,"v":70},{"t":15.2,"u":15.4,"h":8.65,"k":8.85,"v":48},{"t":15.2,"u":15.4,"h":8.85,"k":9.15,"v":28},{"t":15.2,"u":15.4,"h":9.15,"k":9.8,"v":16},
{"t":15.4,"u":15.55,"h":6,"k":8.3,"v":95},{"t":15.4,"u":15.55,"h":8.3,"k":8.55,"v":70},{"t":15.4,"u":15.55,"h":8.55,"k":8.75,"v":46},{"t":15.4,"u":15.55,"h":8.75,"k":9.1,"v":26},{"t":15.4,"u":15.55,"h":9.1,"k":9.7,"v":14},
{"t":15.55,"u":15.65,"h":6,"k":8,"v":95},{"t":15.55,"u":15.65,"h":8,"k":8.3,"v":70},{"t":15.55,"u":15.65,"h":8.3,"k":8.55,"v":46},{"t":15.55,"u":15.65,"h":8.55,"k":8.9,"v":26},{"t":15.55,"u":15.65,"h":8.9,"k":9.6,"v":13},
{"t":15.65,"u":15.74,"h":6,"k":7.6,"v":95},{"t":15.65,"u":15.74,"h":7.6,"k":7.95,"v":70},{"t":15.65,"u":15.74,"h":7.95,"k":8.3,"v":46},{"t":15.65,"u":15.74,"h":8.3,"k":8.7,"v":26},{"t":15.65,"u":15.74,"h":8.7,"k":9.5,"v":12},
{"t":15.74,"u":15.82,"h":6,"k":7,"v":95},{"t":15.74,"u":15.82,"h":7,"k":7.5,"v":70},{"t":15.74,"u":15.82,"h":7.5,"k":8,"v":46},{"t":15.74,"u":15.82,"h":8,"k":8.5,"v":25},{"t":15.74,"u":15.82,"h":8.5,"k":9.5,"v":11},
{"t":15.82,"u":15.88,"h":6,"k":6.6,"v":90},{"t":15.82,"u":15.88,"h":6.6,"k":7,"v":65},{"t":15.82,"u":15.88,"h":7,"k":7.6,"v":45},{"t":15.82,"u":15.88,"h":7.6,"k":8.2,"v":26},{"t":15.82,"u":15.88,"h":8.2,"k":9.5,"v":10},
{"t":15.88,"u":15.98,"h":6,"k":6.2,"v":62},{"t":15.88,"u":15.98,"h":6.2,"k":6.8,"v":45},{"t":15.88,"u":15.98,"h":6.8,"k":7.5,"v":30},{"t":15.88,"u":15.98,"h":7.5,"k":8.5,"v":22},{"t":15.88,"u":15.98,"h":8.5,"k":9.5,"v":10},
{"t":15.98,"u":16.15,"h":6,"k":6.25,"v":55},{"t":15.98,"u":16.15,"h":6.25,"k":6.6,"v":42},{"t":15.98,"u":16.15,"h":6.6,"k":7.2,"v":28},{"t":15.98,"u":16.15,"h":7.2,"k":8.4,"v":20},{"t":15.98,"u":16.15,"h":8.4,"k":9.5,"v":8},
{"t":16.15,"u":16.5,"h":6,"k":6.15,"v":75},{"t":16.15,"u":16.5,"h":6.15,"k":6.45,"v":48},{"t":16.15,"u":16.5,"h":6.45,"k":7,"v":30},{"t":16.15,"u":16.5,"h":7,"k":8.4,"v":20},{"t":16.15,"u":16.5,"h":8.4,"k":9.5,"v":7},
{"t":16.5,"u":16.9,"h":6,"k":6.2,"v":82},{"t":16.5,"u":16.9,"h":6.2,"k":6.4,"v":58},{"t":16.5,"u":16.9,"h":6.4,"k":6.8,"v":40},{"t":16.5,"u":16.9,"h":6.8,"k":7.3,"v":27},{"t":16.5,"u":16.9,"h":7.3,"k":8.3,"v":19},{"t":16.5,"u":16.9,"h":8.3,"k":9.5,"v":6},
{"t":16.9,"u":17.4,"h":6,"k":6.35,"v":88},{"t":16.9,"u":17.4,"h":6.35,"k":6.5,"v":62},{"t":16.9,"u":17.4,"h":6.5,"k":6.95,"v":40},{"t":16.9,"u":17.4,"h":6.95,"k":7.4,"v":27},{"t":16.9,"u":17.4,"h":7.4,"k":8.3,"v":19},{"t":16.9,"u":17.4,"h":8.3,"k":9.5,"v":6},
{"t":17.4,"u":18.05,"h":6,"k":6.25,"v":80},{"t":17.4,"u":18.05,"h":6.25,"k":6.45,"v":60},{"t":17.4,"u":18.05,"h":6.45,"k":6.85,"v":40},{"t":17.4,"u":18.05,"h":6.85,"k":7.25,"v":26},{"t":17.4,"u":18.05,"h":7.25,"k":8.2,"v":18},{"t":17.4,"u":18.05,"h":8.2,"k":9.5,"v":6},
{"t":18.05,"u":18.35,"h":6,"k":6.2,"v":82},{"t":18.05,"u":18.35,"h":6.2,"k":6.45,"v":58},{"t":18.05,"u":18.35,"h":6.45,"k":6.9,"v":42},{"t":18.05,"u":18.35,"h":6.9,"k":7.35,"v":28},{"t":18.05,"u":18.35,"h":7.35,"k":8.2,"v":18},{"t":18.05,"u":18.35,"h":8.2,"k":9.5,"v":6},
{"t":18.35,"u":18.48,"h":6,"k":6.15,"v":60},{"t":18.35,"u":18.48,"h":6.15,"k":6.5,"v":38},{"t":18.35,"u":18.48,"h":6.5,"k":7,"v":25},{"t":18.35,"u":18.48,"h":7,"k":7.8,"v":16},{"t":18.35,"u":18.48,"h":7.8,"k":9.5,"v":6},
{"t":18.48,"u":18.62,"h":6,"k":6.3,"v":36},{"t":18.48,"u":18.62,"h":6.3,"k":7,"v":24},{"t":18.48,"u":18.62,"h":7,"k":8,"v":14},{"t":18.48,"u":18.62,"h":8,"k":9.5,"v":5},
{"t":18.62,"u":18.72,"h":6,"k":6.5,"v":42},{"t":18.62,"u":18.72,"h":6.5,"k":7.2,"v":28},{"t":18.62,"u":18.72,"h":7.2,"k":8.5,"v":16},{"t":18.62,"u":18.72,"h":8.5,"k":9.5,"v":6},
{"t":18.72,"u":18.8,"h":6,"k":7,"v":45},{"t":18.72,"u":18.8,"h":7,"k":7.8,"v":30},{"t":18.72,"u":18.8,"h":7.8,"k":8.6,"v":20},{"t":18.72,"u":18.8,"h":8.6,"k":9.5,"v":7},
{"t":18.8,"u":18.85,"h":6,"k":7.4,"v":55},{"t":18.8,"u":18.85,"h":7.4,"k":8,"v":38},{"t":18.8,"u":18.85,"h":8,"k":8.5,"v":25},{"t":18.8,"u":18.85,"h":8.5,"k":9.5,"v":12},
{"t":18.85,"u":18.92,"h":6,"k":6.9,"v":95},{"t":18.85,"u":18.92,"h":6.9,"k":7.4,"v":75},{"t":18.85,"u":18.92,"h":7.4,"k":8.4,"v":48},{"t":18.85,"u":18.92,"h":8.4,"k":8.9,"v":22},{"t":18.85,"u":18.92,"h":8.9,"k":9.5,"v":10},
{"t":18.92,"u":18.98,"h":6,"k":7.4,"v":50},{"t":18.92,"u":18.98,"h":7.4,"k":8,"v":35},{"t":18.92,"u":18.98,"h":8,"k":8.6,"v":22},{"t":18.92,"u":18.98,"h":8.6,"k":9.5,"v":8},
{"t":18.98,"u":19.07,"h":6,"k":6.6,"v":42},{"t":18.98,"u":19.07,"h":6.6,"k":7.4,"v":30},{"t":18.98,"u":19.07,"h":7.4,"k":8.4,"v":18},{"t":18.98,"u":19.07,"h":8.4,"k":9.5,"v":6},
{"t":19.07,"u":19.17,"h":6,"k":6.3,"v":38},{"t":19.07,"u":19.17,"h":6.3,"k":7,"v":24},{"t":19.07,"u":19.17,"h":7,"k":8,"v":14},{"t":19.07,"u":19.17,"h":8,"k":9.5,"v":5},
{"t":19.17,"u":19.26,"h":6,"k":6.3,"v":55},{"t":19.17,"u":19.26,"h":6.3,"k":6.7,"v":36},{"t":19.17,"u":19.26,"h":6.7,"k":7.3,"v":24},{"t":19.17,"u":19.26,"h":7.3,"k":8.2,"v":15},{"t":19.17,"u":19.26,"h":8.2,"k":9.5,"v":5},
{"t":19.26,"u":19.39,"h":6,"k":6.25,"v":70},{"t":19.26,"u":19.39,"h":6.25,"k":6.55,"v":46},{"t":19.26,"u":19.39,"h":6.55,"k":7,"v":30},{"t":19.26,"u":19.39,"h":7,"k":8,"v":18},{"t":19.26,"u":19.39,"h":8,"k":9.5,"v":6}],
"bar1":[{"t":0.694,"u":0.71,"v":0.7},{"t":0.71,"u":0.73,"v":0.72},{"t":0.73,"u":0.75,"v":0.74},{"t":0.75,"u":0.77,"v":0.76},{"t":0.77,"u":0.79,"v":0.78},{"t":0.79,"u":0.81,"v":0.8},{"t":0.81,"u":0.83,"v":0.82},{"t":0.83,"u":0.85,"v":0.84},{"t":0.85,"u":0.87,"v":0.86},{"t":0.87,"u":0.89,"v":0.88},{"t":0.89,"u":0.91,"v":0.9},{"t":0.91,"u":0.93,"v":0.92},{"t":0.93,"u":0.95,"v":0.94},{"t":0.95,"u":0.97,"v":0.96},{"t":0.97,"u":0.985,"v":0.98},{"t":1.015,"u":1.03,"v":1.02},{"t":1.03,"u":1.05,"v":1.04},{"t":1.05,"u":1.07,"v":1.06},{"t":1.07,"u":1.09,"v":1.08},{"t":1.09,"u":1.11,"v":1.1},{"t":1.11,"u":1.13,"v":1.12},{"t":1.13,"u":1.15,"v":1.14},{"t":1.15,"u":1.17,"v":1.16},{"t":1.17,"u":1.19,"v":1.18},{"t":1.19,"u":1.21,"v":1.2},{"t":1.21,"u":1.23,"v":1.22},{"t":1.23,"u":1.25,"v":1.24},{"t":1.25,"u":1.27,"v":1.26},{"t":1.27,"u":1.29,"v":1.28},{"t":1.29,"u":1.316,"v":1.3}],
"bar2":[{"t":-7.2,"u":-4.7,"v":-6},{"t":-4.7,"u":-2.2,"v":-3.5},{"t":-2.2,"u":0.3,"v":-1},{"t":0.3,"u":2.8,"v":1.5},{"t":2.8,"u":5.3,"v":4},{"t":5.3,"u":7.8,"v":6.5},{"t":7.8,"u":10.3,"v":9},{"t":10.3,"u":12.8,"v":11.5},{"t":12.8,"u":15.3,"v":14},{"t":15.3,"u":17.8,"v":16.5},{"t":17.8,"u":20.3,"v":19},{"t":20.3,"u":22.8,"v":21.5},{"t":22.8,"u":25.3,"v":24},{"t":25.3,"u":27.8,"v":26.5},{"t":27.8,"u":30.3,"v":29},{"t":30.3,"u":32.8,"v":31.5},{"t":32.8,"u":35.3,"v":34},{"t":35.3,"u":37.8,"v":36.5},{"t":37.8,"u":40.3,"v":39},{"t":40.3,"u":42.8,"v":41.5},{"t":42.8,"u":45.3,"v":44},{"t":45.3,"u":47.8,"v":46.5},{"t":47.8,"u":50.3,"v":49},{"t":50.3,"u":52.8,"v":51.5},{"t":52.8,"u":55.3,"v":54},{"t":55.3,"u":57.8,"v":56.5},{"t":57.8,"u":60.3,"v":59},{"t":60.3,"u":62.8,"v":61.5},{"t":62.8,"u":65.3,"v":64},{"t":65.3,"u":67.8,"v":66.5},{"t":67.8,"u":70.3,"v":69},{"t":70.3,"u":72.8,"v":71.5},{"t":72.8,"u":75.3,"v":74},{"t":75.3,"u":77.8,"v":76.5},{"t":77.8,"u":80.3,"v":79},{"t":80.3,"u":82.8,"v":81.5},{"t":82.8,"u":85.3,"v":84},{"t":85.3,"u":87.8,"v":86.5},{"t":87.8,"u":90.3,"v":89},{"t":90.3,"u":92.8,"v":91.5},{"t":92.8,"u":95.3,"v":94},{"t":95.3,"u":97.7,"v":96.5}]
},
"bounds":"flush","columns":2,"spacing":27,"resolve":{"scale":{"color":"independent","stroke":"independent","x":"independent","y":"independent"}},
"concat":[
{"width":322,"height":177,"encoding":{"x":{"field":"t","type":"quantitative","scale":{"domain":[15,19.39],"nice":false},"axis":{"ticks":false,"labels":false,"title":null,"domain":true}},"y":{"field":"h","type":"quantitative","scale":{"domain":[6,14],"nice":false},"axis":{"values":[6,8,10,12,14],"title":"h in km","titleFontSize":21,"labelFontSize":20,"tickSize":7,"labelPadding":16,"titlePadding":9,"domain":false}}},
"layer":[{"data":{"name":"a"},"mark":{"type":"rect","strokeWidth":0.5},"encoding":{"x2":{"field":"u"},"y2":{"field":"k"},"color":{"field":"v","type":"quantitative","legend":null,"scale":{"domain":[0.7,0.75,0.8,0.85,0.9,0.95,0.99,1.0,1.01,1.05,1.1,1.15,1.2,1.25,1.3],"range":["#3b5aa6","#4670b2","#5b8fc4","#7cb0d3","#9fcde0","#c6e3ea","#e8f3f3","#ffffff","#ece6b8","#fcdc7c","#fab862","#f68f4c","#e9603c","#d93c30","#c3202b"]}},"stroke":{"field":"v","type":"quantitative","legend":null,"scale":{"domain":[0.7,0.75,0.8,0.85,0.9,0.95,0.99,1.0,1.01,1.05,1.1,1.15,1.2,1.25,1.3],"range":["#3b5aa6","#4670b2","#5b8fc4","#7cb0d3","#9fcde0","#c6e3ea","#e8f3f3","#ffffff","#ece6b8","#fcdc7c","#fab862","#f68f4c","#e9603c","#d93c30","#c3202b"]}}}},
{"data":{"name":"da"},"mark":{"type":"rule","color":"#000","strokeWidth":1.4,"strokeDash":[2,2]},"encoding":{"x2":{"field":"u"}}},
{"data":{"name":"trop"},"mark":{"type":"line","color":"#222","strokeWidth":1}},
{"data":{"values":[{"t":15.055,"u":15.45,"h":6.14,"k":7.57}]},"mark":{"type":"rect","fill":"white","stroke":"#ccc","strokeWidth":1},"encoding":{"x2":{"field":"u"},"y2":{"field":"k"}}},
{"data":{"values":[{"t":15.25,"h":6.85,"s":"a"}]},"mark":{"type":"text","fontSize":25,"color":"#111","baseline":"middle"},"encoding":{"text":{"field":"s"}}}]},
{"width":322,"height":177,"encoding":{"x":{"field":"t","type":"quantitative","scale":{"domain":[15,19.39],"nice":false},"axis":{"values":[16.5,17.5,18.5],"tickSize":3,"labels":false,"title":null}},"y":{"field":"h","type":"quantitative","scale":{"domain":[6,14],"nice":false},"axis":{"values":[6,8,10,12,14],"title":null,"labels":false,"tickSize":7,"domain":false}}},
"layer":[{"data":{"name":"b"},"mark":{"type":"rect","strokeWidth":0.5},"encoding":{"x2":{"field":"u"},"y2":{"field":"k"},"color":{"field":"v","type":"quantitative","legend":null,"scale":{"domain":[-7,-2,3,8,13,18,23,28,33,38,43,48,53,60,68,75,82,90,97],"range":["#85c0e6","#5fa0d6","#4a8ccb","#4a90ad","#4a9c88","#45a868","#3fae50","#72bd4c","#a5cd55","#d8df60","#f0e35c","#f9cb4e","#f6a83f","#f27e2e","#e6512b","#d63129","#c41f29","#a81b22","#941519"]}},"stroke":{"field":"v","type":"quantitative","legend":null,"scale":{"domain":[-7,-2,3,8,13,18,23,28,33,38,43,48,53,60,68,75,82,90,97],"range":["#85c0e6","#5fa0d6","#4a8ccb","#4a90ad","#4a9c88","#45a868","#3fae50","#72bd4c","#a5cd55","#d8df60","#f0e35c","#f9cb4e","#f6a83f","#f27e2e","#e6512b","#d63129","#c41f29","#a81b22","#941519"]}}}},
{"data":{"name":"da"},"mark":{"type":"rule","color":"#000","strokeWidth":1.4,"strokeDash":[2,2]},"encoding":{"x2":{"field":"u"}}},
{"data":{"name":"trop"},"mark":{"type":"line","color":"#222","strokeWidth":1}},
{"data":{"values":[{"t":15.055,"u":15.45,"h":6.17,"k":7.76}]},"mark":{"type":"rect","fill":"white","stroke":"#ccc","strokeWidth":1},"encoding":{"x2":{"field":"u"},"y2":{"field":"k"}}},
{"data":{"values":[{"t":15.25,"h":6.95,"s":"b"}]},"mark":{"type":"text","fontSize":25,"color":"#111","baseline":"middle"},"encoding":{"text":{"field":"s"}}}]},
{"width":322,"height":177,"encoding":{"x":{"field":"t","type":"quantitative","scale":{"domain":[15,19.39],"nice":false},"axis":{"ticks":false,"labels":false,"title":null,"domain":true}},"y":{"field":"h","type":"quantitative","scale":{"domain":[6,14],"nice":false},"axis":{"values":[6,8,10,12,14],"title":"h in km","titleFontSize":21,"labelFontSize":20,"tickSize":7,"labelPadding":16,"titlePadding":9,"domain":false}}},
"layer":[{"data":{"name":"c"},"mark":{"type":"rect","strokeWidth":0.5},"encoding":{"x2":{"field":"u"},"y2":{"field":"k"},"color":{"field":"v","type":"quantitative","legend":null,"scale":{"domain":[0.7,0.75,0.8,0.85,0.9,0.95,0.99,1.0,1.01,1.05,1.1,1.15,1.2,1.25,1.3],"range":["#3b5aa6","#4670b2","#5b8fc4","#7cb0d3","#9fcde0","#c6e3ea","#e8f3f3","#ffffff","#ece6b8","#fcdc7c","#fab862","#f68f4c","#e9603c","#d93c30","#c3202b"]}},"stroke":{"field":"v","type":"quantitative","legend":null,"scale":{"domain":[0.7,0.75,0.8,0.85,0.9,0.95,0.99,1.0,1.01,1.05,1.1,1.15,1.2,1.25,1.3],"range":["#3b5aa6","#4670b2","#5b8fc4","#7cb0d3","#9fcde0","#c6e3ea","#e8f3f3","#ffffff","#ece6b8","#fcdc7c","#fab862","#f68f4c","#e9603c","#d93c30","#c3202b"]}}}},
{"data":{"name":"dc"},"mark":{"type":"rule","color":"#000","strokeWidth":1.6},"encoding":{"x2":{"field":"u"}}},
{"data":{"name":"trop"},"mark":{"type":"line","color":"#222","strokeWidth":1}},
{"data":{"values":[{"t":15.055,"u":15.45,"h":6.2,"k":7.57}]},"mark":{"type":"rect","fill":"white","stroke":"#ccc","strokeWidth":1},"encoding":{"x2":{"field":"u"},"y2":{"field":"k"}}},
{"data":{"values":[{"t":15.25,"h":6.85,"s":"c"}]},"mark":{"type":"text","fontSize":25,"color":"#111","baseline":"middle"},"encoding":{"text":{"field":"s"}}}]},
{"width":322,"height":177,"encoding":{"x":{"field":"t","type":"quantitative","scale":{"domain":[15,19.39],"nice":false},"axis":{"values":[16.5,17.5,18.5],"tickSize":3,"labels":false,"title":null}},"y":{"field":"h","type":"quantitative","scale":{"domain":[6,14],"nice":false},"axis":{"values":[6,8,10,12,14],"title":null,"labels":false,"tickSize":7,"domain":false}}},
"layer":[{"data":{"name":"d"},"mark":{"type":"rect","strokeWidth":0.5},"encoding":{"x2":{"field":"u"},"y2":{"field":"k"},"color":{"field":"v","type":"quantitative","legend":null,"scale":{"domain":[-7,-2,3,8,13,18,23,28,33,38,43,48,53,60,68,75,82,90,97],"range":["#85c0e6","#5fa0d6","#4a8ccb","#4a90ad","#4a9c88","#45a868","#3fae50","#72bd4c","#a5cd55","#d8df60","#f0e35c","#f9cb4e","#f6a83f","#f27e2e","#e6512b","#d63129","#c41f29","#a81b22","#941519"]}},"stroke":{"field":"v","type":"quantitative","legend":null,"scale":{"domain":[-7,-2,3,8,13,18,23,28,33,38,43,48,53,60,68,75,82,90,97],"range":["#85c0e6","#5fa0d6","#4a8ccb","#4a90ad","#4a9c88","#45a868","#3fae50","#72bd4c","#a5cd55","#d8df60","#f0e35c","#f9cb4e","#f6a83f","#f27e2e","#e6512b","#d63129","#c41f29","#a81b22","#941519"]}}}},
{"data":{"name":"dc"},"mark":{"type":"rule","color":"#000","strokeWidth":1.6},"encoding":{"x2":{"field":"u"}}},
{"data":{"name":"trop"},"mark":{"type":"line","color":"#222","strokeWidth":1}},
{"data":{"values":[{"t":15.055,"u":15.45,"h":6.17,"k":7.8}]},"mark":{"type":"rect","fill":"white","stroke":"#ccc","strokeWidth":1},"encoding":{"x2":{"field":"u"},"y2":{"field":"k"}}},
{"data":{"values":[{"t":15.25,"h":6.95,"s":"d"}]},"mark":{"type":"text","fontSize":25,"color":"#111","baseline":"middle"},"encoding":{"text":{"field":"s"}}}]},
{"width":322,"height":177,"encoding":{"x":{"field":"t","type":"quantitative","scale":{"domain":[15,19.39],"nice":false},"axis":{"values":[15.5,16,16.5,17,17.5,18,18.5,19],"tickSize":{"condition":{"test":"datum.value%1==0","value":7},"value":3},"labelExpr":"datum.value%1==0?datum.value+':00':''","labelFontSize":22,"labelPadding":11,"labelOverlap":false,"title":null}},"y":{"field":"h","type":"quantitative","scale":{"domain":[6,14],"nice":false},"axis":{"values":[6,8,10,12,14],"title":"h in km","titleFontSize":21,"labelFontSize":20,"tickSize":7,"labelPadding":16,"titlePadding":9,"domain":false}}},
"layer":[{"data":{"name":"e"},"mark":{"type":"rect","strokeWidth":0.5},"encoding":{"x2":{"field":"u"},"y2":{"field":"k"},"color":{"field":"v","type":"quantitative","legend":null,"scale":{"domain":[0.7,0.75,0.8,0.85,0.9,0.95,0.99,1.0,1.01,1.05,1.1,1.15,1.2,1.25,1.3],"range":["#3b5aa6","#4670b2","#5b8fc4","#7cb0d3","#9fcde0","#c6e3ea","#e8f3f3","#ffffff","#ece6b8","#fcdc7c","#fab862","#f68f4c","#e9603c","#d93c30","#c3202b"]}},"stroke":{"field":"v","type":"quantitative","legend":null,"scale":{"domain":[0.7,0.75,0.8,0.85,0.9,0.95,0.99,1.0,1.01,1.05,1.1,1.15,1.2,1.25,1.3],"range":["#3b5aa6","#4670b2","#5b8fc4","#7cb0d3","#9fcde0","#c6e3ea","#e8f3f3","#ffffff","#ece6b8","#fcdc7c","#fab862","#f68f4c","#e9603c","#d93c30","#c3202b"]}}}},
{"data":{"name":"de"},"mark":{"type":"rule","color":"#000","strokeWidth":1.6},"encoding":{"x2":{"field":"u"}}},
{"data":{"name":"trop"},"mark":{"type":"line","color":"#222","strokeWidth":1}},
{"data":{"values":[{"t":15.055,"u":15.44,"h":6.26,"k":7.62}]},"mark":{"type":"rect","fill":"white"},"encoding":{"x2":{"field":"u"},"y2":{"field":"k"}}},
{"data":{"values":[{"t":15.25,"h":6.9,"s":"e"}]},"mark":{"type":"text","fontSize":25,"color":"#111","baseline":"middle"},"encoding":{"text":{"field":"s"}}}]},
{"width":322,"height":177,"encoding":{"x":{"field":"t","type":"quantitative","scale":{"domain":[15,19.39],"nice":false},"axis":{"values":[15.5,16,16.5,17,17.5,18,18.5,19],"tickSize":{"condition":{"test":"datum.value%1==0","value":7},"value":3},"labelExpr":"datum.value%1==0?datum.value+':00':''","labelFontSize":22,"labelPadding":11,"labelOverlap":false,"title":null}},"y":{"field":"h","type":"quantitative","scale":{"domain":[6,14],"nice":false},"axis":{"values":[6,8,10,12,14],"title":null,"labels":false,"tickSize":7,"domain":false}}},
"layer":[{"data":{"name":"f"},"mark":{"type":"rect","strokeWidth":0.5},"encoding":{"x2":{"field":"u"},"y2":{"field":"k"},"color":{"field":"v","type":"quantitative","legend":null,"scale":{"domain":[-7,-2,3,8,13,18,23,28,33,38,43,48,53,60,68,75,82,90,97],"range":["#85c0e6","#5fa0d6","#4a8ccb","#4a90ad","#4a9c88","#45a868","#3fae50","#72bd4c","#a5cd55","#d8df60","#f0e35c","#f9cb4e","#f6a83f","#f27e2e","#e6512b","#d63129","#c41f29","#a81b22","#941519"]}},"stroke":{"field":"v","type":"quantitative","legend":null,"scale":{"domain":[-7,-2,3,8,13,18,23,28,33,38,43,48,53,60,68,75,82,90,97],"range":["#85c0e6","#5fa0d6","#4a8ccb","#4a90ad","#4a9c88","#45a868","#3fae50","#72bd4c","#a5cd55","#d8df60","#f0e35c","#f9cb4e","#f6a83f","#f27e2e","#e6512b","#d63129","#c41f29","#a81b22","#941519"]}}}},
{"data":{"name":"de"},"mark":{"type":"rule","color":"#000","strokeWidth":1.6},"encoding":{"x2":{"field":"u"}}},
{"data":{"name":"trop"},"mark":{"type":"line","color":"#222","strokeWidth":1}},
{"data":{"values":[{"t":15.07,"u":15.38,"h":6.22,"k":7.76}]},"mark":{"type":"rect","fill":"white"},"encoding":{"x2":{"field":"u"},"y2":{"field":"k"}}},
{"data":{"values":[{"t":15.22,"h":6.95,"s":"f"}]},"mark":{"type":"text","fontSize":25,"color":"#111","baseline":"middle"},"encoding":{"text":{"field":"s"}}}]},
{"width":322,"height":36,"view":{"stroke":null},"encoding":{"x":{"field":"t","type":"quantitative","scale":{"domain":[0.688,1.3196],"nice":false},"axis":{"values":[0.7,0.8,0.9,1.0,1.1,1.2,1.3],"format":".1f","ticks":false,"domain":false,"labelFontSize":20,"labelPadding":4,"title":null}}},
"layer":[{"data":{"name":"bar1"},"transform":[{"calculate":"0","as":"y0"},{"calculate":"0.44","as":"y1"}],"mark":{"type":"rect"},"encoding":{"x2":{"field":"u"},"y":{"field":"y0","type":"quantitative","scale":{"domain":[0,1]},"axis":null},"y2":{"field":"y1"},"color":{"field":"v","type":"quantitative","legend":null,"scale":{"domain":[0.7,0.75,0.8,0.85,0.9,0.95,0.99,1.0,1.01,1.05,1.1,1.15,1.2,1.25,1.3],"range":["#3b5aa6","#4670b2","#5b8fc4","#7cb0d3","#9fcde0","#c6e3ea","#e8f3f3","#ffffff","#ece6b8","#fcdc7c","#fab862","#f68f4c","#e9603c","#d93c30","#c3202b"]}}}},
{"data":{"values":[{"t":0.98,"y":0,"s":"RH"}]},"mark":{"type":"text","fontSize":22,"color":"#111","dy":32,"baseline":"middle"},"encoding":{"y":{"field":"y","type":"quantitative","scale":{"domain":[0,1]},"axis":null},"text":{"field":"s"}}},
{"data":{"values":[{"t":1.033,"y":0,"s":"ICE"}]},"mark":{"type":"text","fontSize":13,"color":"#111","dy":38,"baseline":"middle"},"encoding":{"y":{"field":"y","type":"quantitative","scale":{"domain":[0,1]},"axis":null},"text":{"field":"s"}}}]},
{"width":322,"height":36,"view":{"stroke":null},"encoding":{"x":{"field":"t","type":"quantitative","scale":{"domain":[-8.2,98.4],"nice":false},"axis":{"values":[10,25,40,55,70,85],"ticks":false,"domain":false,"labelFontSize":20,"labelPadding":4,"title":null}}},
"layer":[{"data":{"name":"bar2"},"transform":[{"calculate":"0","as":"y0"},{"calculate":"0.44","as":"y1"}],"mark":{"type":"rect"},"encoding":{"x2":{"field":"u"},"y":{"field":"y0","type":"quantitative","scale":{"domain":[0,1]},"axis":null},"y2":{"field":"y1"},"color":{"field":"v","type":"quantitative","legend":null,"scale":{"domain":[-7,-2,3,8,13,18,23,28,33,38,43,48,53,60,68,75,82,90,97],"range":["#85c0e6","#5fa0d6","#4a8ccb","#4a90ad","#4a9c88","#45a868","#3fae50","#72bd4c","#a5cd55","#d8df60","#f0e35c","#f9cb4e","#f6a83f","#f27e2e","#e6512b","#d63129","#c41f29","#a81b22","#941519"]}}}},
{"data":{"values":[{"t":45,"y":0,"s":"H₂O in ppmv"}]},"mark":{"type":"text","fontSize":22,"color":"#111","dy":32,"baseline":"middle"},"encoding":{"y":{"field":"y","type":"quantitative","scale":{"domain":[0,1]},"axis":null},"text":{"field":"s"}}}]}
]}
